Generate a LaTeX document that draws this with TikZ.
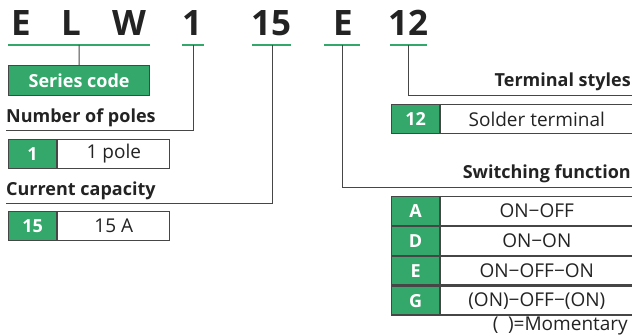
\documentclass[tikz,border=0pt]{standalone}
\usepackage{fontspec}
\setmainfont{Open Sans}
\usetikzlibrary{positioning}

\definecolor{codegreen}{RGB}{52,168,107}
\definecolor{ink}{RGB}{35,35,35}
\definecolor{frame}{RGB}{70,70,70}

\begin{document}
\begin{tikzpicture}[x=1pt, y=-1pt,
    big/.style={%
      font=\fontsize{35}{40}\selectfont\bfseries, text=ink, anchor=base, inner sep=0pt
    },
    head/.style={%
      font=\fontsize{18}{20}\selectfont\bfseries, text=ink, inner sep=0pt
    },
    code/.style={%
      rectangle, draw=frame, line width=1.2pt, fill=codegreen, text=white,
      font=\fontsize{18}{20}\selectfont\bfseries,
      minimum width=48pt, minimum height=28.7pt, inner sep=0pt, anchor=north west
    },
    desc/.style={%
      rectangle, draw=frame, line width=1.2pt, fill=white, text=ink,
      font=\fontsize{19}{21}\selectfont,
      minimum height=28.7pt, inner sep=0pt, anchor=north west
    },
    uline/.style={draw=codegreen, line width=2.4pt},
    conn/.style={draw=frame, line width=1pt}
]
    \useasboundingbox (0,0) rectangle (632,336);

    % part number
    \node[big] (E)  at (21,36)  {E};
    \node[big] (L)  at (71,36)  {L};
    \node[big] (W)  at (129,36) {W};
    \node[big] (1)  at (192,36) {1};
    \node[big] (15) at (271,36) {15};
    \node[big] (sw) at (343,36) {E};
    \node[big] (12) at (408,36) {12};

    \coordinate (uELW) at (79,45);
    \coordinate (u1)   at (193,45);
    \coordinate (u15)  at (272,45);
    \coordinate (uE)   at (342,45);
    \coordinate (u12)  at (408,45);
    \path[uline] (8,45) -- (150,45)
                 (182,45) -- (204,45)
                 (252,45) -- (291,45)
                 (324,45) -- (360,45)
                 (390,45) -- (427,45);

    % series code
    \node[code, minimum width=141pt, minimum height=30pt] (series) at (8,65) {Series code};

    % number of poles
    \node[head, anchor=base west] (poles) at (6,123) {Number of poles};
    \coordinate (polesL) at (6,131);
    \node[code] (p1) at (8,139) {1};
    \node[desc, minimum width=112pt, right = 0pt of p1] (p1d) {1 pole};

    % current capacity
    \node[head, anchor=base west] (cur) at (6,196) {Current capacity};
    \coordinate (curL) at (6,204);
    \node[code] (c15) at (8,211) {15};
    \node[desc, minimum width=112pt, right = 0pt of c15] (c15d) {15 A};

    % terminal styles
    \node[head, anchor=base east] (term) at (631,87) {Terminal styles};
    \coordinate (termR) at (632,96);
    \node[code] (t12) at (391,104) {12};
    \node[desc, minimum width=192pt, right = 0pt of t12] (t12d) {Solder terminal};

    % switching function
    \node[head, anchor=base east] (func) at (631,179) {Switching function};
    \coordinate (funcR) at (632,188);
    \node[code] (fA) at (391,196) {A};
    \node[desc, minimum width=192pt, right = 0pt of fA] (fAd) {ON−OFF};
    \node[code, below = 0pt of fA] (fD) {D};
    \node[desc, minimum width=192pt, right = 0pt of fD] (fDd) {ON−ON};
    \node[code, below = 0pt of fD] (fE) {E};
    \node[desc, minimum width=192pt, right = 0pt of fE] (fEd) {ON−OFF−ON};
    \node[code, below = 0pt of fE] (fG) {G};
    \node[desc, minimum width=192pt, right = 0pt of fG] (fGd) {(ON)−OFF−(ON)};
    \node[text=ink, inner sep=0pt, font=\fontsize{19}{21}\selectfont, anchor=base east] (mom) at (628,330.5) {(\hspace{0.5em})=Momentary};

    % leaders
    \path[conn] (uELW) -- (series.north);
    \path[conn] (u1) |- (polesL);
    \path[conn] (u15) |- (curL);
    \path[conn] (uE) |- (funcR);
    \path[conn] (u12) |- (termR);

\end{tikzpicture}
\end{document}
